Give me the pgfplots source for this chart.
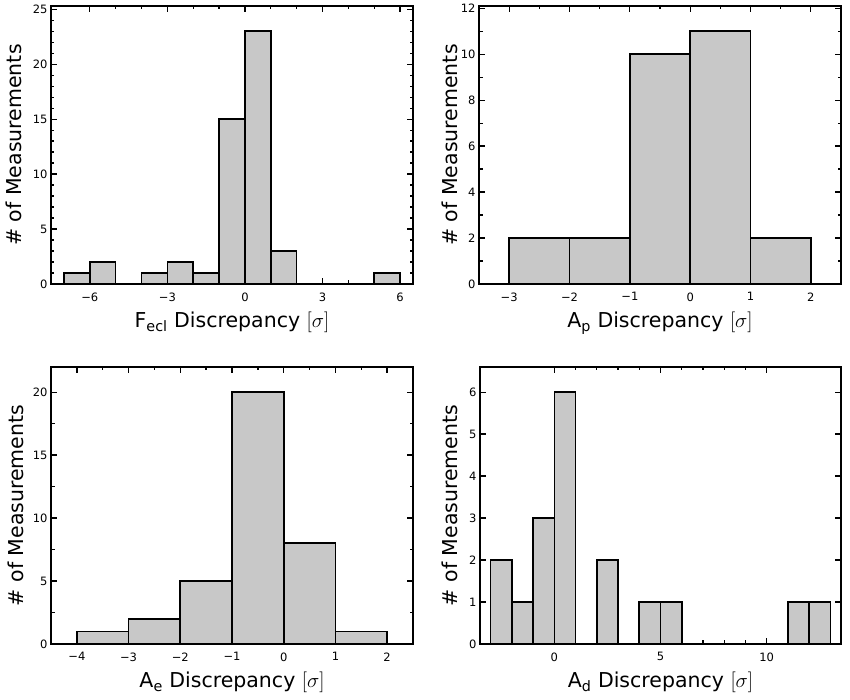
\documentclass[border=0pt]{standalone}
\usepackage{fontspec}
\setmainfont{DejaVu Sans}
\usepackage{pgfplots}
\pgfplotsset{compat=1.18}
\definecolor{barfill}{RGB}{200,200,200}
\pgfplotsset{
  hist/.style={
    scale only axis, anchor=south west,
    axis line style={line width=1.8pt},
    every tick/.style={black, line width=1.3pt},
    major tick length=6pt, minor tick length=3.5pt,
    tick align=inside,
    ymin=0,
    ticklabel style={font=\fontsize{11.5}{13}\selectfont},
    xticklabel style={yshift=-5pt},
    label style={font=\fontsize{20.5}{24}\selectfont},
    xlabel style={at={(axis description cs:0.5,0)}, anchor=base, yshift=-44pt},
    ylabel={\# of Measurements},
  },
  bars/.style={ybar, bar width=1, bar shift=0pt, fill=barfill, draw=black, line width=1.6pt},
}
\begin{document}
\begin{tikzpicture}
\useasboundingbox (0,0) rectangle (850pt,700pt);
% Panel 1
\begin{axis}[hist, at={(51pt,416pt)}, width=362pt, height=278pt,
  xmin=-7.5, xmax=6.5, ymax=25.3,
  xtick={-6,-3,0,3,6}, xticklabels={−6,−3,0,3,6}, minor x tick num=2,
  ytick={0,5,10,15,20,25}, yticklabels={0,5,10,15,20,25}, minor y tick num=4,
  xlabel={F\textsubscript{ecl} Discrepancy $\big[\sigma\big]$},
  ylabel style={at={(axis description cs:-0.081,0.5)}, anchor=base}]
\addplot[bars] coordinates {(-6.5,1) (-5.5,2) (-3.5,1) (-2.5,2) (-1.5,1) (-0.5,15) (0.5,23) (1.5,3) (5.5,1)};
\end{axis}
% Panel 2
\begin{axis}[hist, at={(479pt,416pt)}, width=362pt, height=278pt,
  xmin=-3.5, xmax=2.5, ymax=12.1,
  xtick={-3,-2,-1,0,1,2}, xticklabels={−3,−2,−1,0,1,2}, minor x tick num=1,
  ytick={0,2,4,6,8,10,12}, yticklabels={0,2,4,6,8,10,12}, minor y tick num=1,
  xlabel={A\textsubscript{p} Discrepancy $\big[\sigma\big]$},
  ylabel style={at={(axis description cs:-0.059,0.5)}, anchor=base}]
\addplot[bars] coordinates {(-2.5,2) (-1.5,2) (-0.5,10) (0.5,11) (1.5,2)};
\end{axis}
% Panel 3
\begin{axis}[hist, at={(51pt,56pt)}, width=362pt, height=277pt,
  xmin=-4.5, xmax=2.5, ymax=22,
  xtick={-4,-3,-2,-1,0,1,2}, xticklabels={−4,−3,−2,−1,0,1,2}, minor x tick num=1,
  ytick={0,5,10,15,20}, yticklabels={0,5,10,15,20}, minor y tick num=1,
  xlabel={A\textsubscript{e} Discrepancy $\big[\sigma\big]$},
  ylabel style={at={(axis description cs:-0.077,0.5)}, anchor=base}]
\addplot[bars] coordinates {(-3.5,1) (-2.5,2) (-1.5,5) (-0.5,20) (0.5,8) (1.5,1)};
\end{axis}
% Panel 4
\begin{axis}[hist, at={(480pt,56pt)}, width=361pt, height=277pt,
  xmin=-3.5, xmax=13.5, ymax=6.6,
  xtick={0,5,10}, xticklabels={0,5,10}, minor x tick num=4,
  ytick={0,1,2,3,4,5,6}, yticklabels={0,1,2,3,4,5,6},
  xlabel={A\textsubscript{d} Discrepancy $\big[\sigma\big]$},
  ylabel style={at={(axis description cs:-0.061,0.5)}, anchor=base}]
\addplot[bars] coordinates {(-2.5,2) (-1.5,1) (-0.5,3) (0.5,6) (2.5,2) (4.5,1) (5.5,1) (11.5,1) (12.5,1)};
\end{axis}
\end{tikzpicture}
\end{document}
